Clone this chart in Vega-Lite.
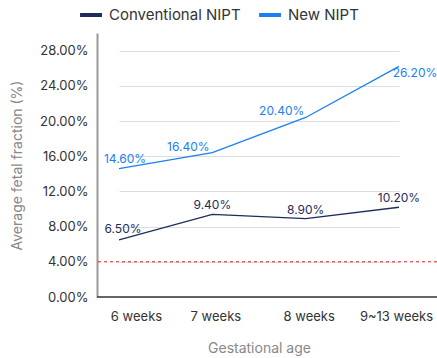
{
  "$schema": "https://vega.github.io/schema/vega-lite/v6.json",
  "autosize": {"type": "none"},
  "padding": {"left": 97, "top": 33, "right": 0, "bottom": 61},
  "width": 340,
  "height": 264,
  "config": {
    "font": "Inter",
    "view": {"stroke": null},
    "axis": {"labelFont": "Inter", "titleFont": "Inter", "labelColor": "#333", "titleColor": "#888", "titleFontWeight": "normal"}
  },
  "data": {
    "values": [
      {"age": "6 weeks", "series": "Conventional NIPT", "value": 6.5},
      {"age": "7 weeks", "series": "Conventional NIPT", "value": 9.4},
      {"age": "8 weeks", "series": "Conventional NIPT", "value": 8.9},
      {"age": "9~13 weeks", "series": "Conventional NIPT", "value": 10.2},
      {"age": "6 weeks", "series": "New NIPT", "value": 14.6},
      {"age": "7 weeks", "series": "New NIPT", "value": 16.4},
      {"age": "8 weeks", "series": "New NIPT", "value": 20.4},
      {"age": "9~13 weeks", "series": "New NIPT", "value": 26.2}
    ]
  },
  "transform": [{"calculate": "format(datum.value, '.2f') + '%'", "as": "label"}],
  "encoding": {
    "x": {
      "field": "age", "type": "nominal", "sort": null,
      "scale": {"type": "point", "range": [22, 302], "padding": 0},
      "axis": {"title": "Gestational age", "labelAngle": 0, "labelFontSize": 13, "labelPadding": 13, "titleFontSize": 14, "titlePadding": 18, "ticks": false, "domain": false, "grid": false,
        "labelOffset": {"condition": [{"test": "datum.value === '6 weeks'", "value": 17}, {"test": "datum.value === '9~13 weeks'", "value": -3}], "value": 3}}
    },
    "y": {
      "field": "value", "type": "quantitative",
      "scale": {"domain": [0, 30], "nice": false},
      "axis": {"title": "Average fetal fraction (%)", "values": [0, 4, 8, 12, 16, 20, 24, 28], "labelExpr": "format(datum.value, '.2f') + '%'", "labelFontSize": 13, "labelPadding": 9, "titleFontSize": 14, "titlePadding": 15, "ticks": false, "domainColor": "#999", "domainWidth": 2, "gridColor": "#dddddd", "gridWidth": 1}
    },
    "color": {
      "field": "series", "type": "nominal",
      "scale": {"domain": ["Conventional NIPT", "New NIPT"], "range": ["#1f2b5b", "#1a7ff5"]},
      "legend": {"title": null, "orient": "none", "direction": "horizontal", "legendX": -19, "legendY": -31, "symbolType": "stroke", "symbolSize": 480, "symbolStrokeWidth": 4, "labelFontSize": 15, "labelColor": "#333", "columnPadding": 10, "labelOffset": 5}
    }
  },
  "layer": [
    {
      "mark": {"type": "rule", "color": "#333", "strokeWidth": 1.5},
      "data": {"values": [{"v": 0}]},
      "transform": [],
      "encoding": {"y": {"field": "v", "type": "quantitative"}, "x": null, "color": null}
    },
    {
      "mark": {"type": "rule", "color": "#e8141c", "strokeWidth": 1, "strokeDash": [3, 3]},
      "data": {"values": [{"v": 4}]},
      "encoding": {"y": {"field": "v", "type": "quantitative"}, "x": null, "color": null}
    },
    {"mark": {"type": "line", "strokeWidth": 1.3}},
    {
      "transform": [{"filter": "datum.series === 'Conventional NIPT' && datum.age === '6 weeks'"}],
      "mark": {"type": "text", "fontSize": 12, "dy": -11, "dx": 4},
      "encoding": {"text": {"field": "label"}}
    },
    {
      "transform": [{"filter": "datum.series === 'Conventional NIPT' && datum.age !== '6 weeks'"}],
      "mark": {"type": "text", "fontSize": 12, "dy": -9},
      "encoding": {"text": {"field": "label"}}
    },
    {
      "transform": [{"filter": "datum.series === 'New NIPT' && datum.age === '6 weeks'"}],
      "mark": {"type": "text", "fontSize": 12, "dy": -10, "dx": 6},
      "encoding": {"text": {"field": "label"}}
    },
    {
      "transform": [{"filter": "datum.series === 'New NIPT' && (datum.age === '7 weeks' || datum.age === '8 weeks')"}],
      "mark": {"type": "text", "fontSize": 12, "dy": -6, "dx": -24},
      "encoding": {"text": {"field": "label"}}
    },
    {
      "transform": [{"filter": "datum.series === 'New NIPT' && datum.age === '9~13 weeks'"}],
      "mark": {"type": "text", "fontSize": 12, "dy": 7, "dx": 16},
      "encoding": {"text": {"field": "label"}}
    }
  ]
}
